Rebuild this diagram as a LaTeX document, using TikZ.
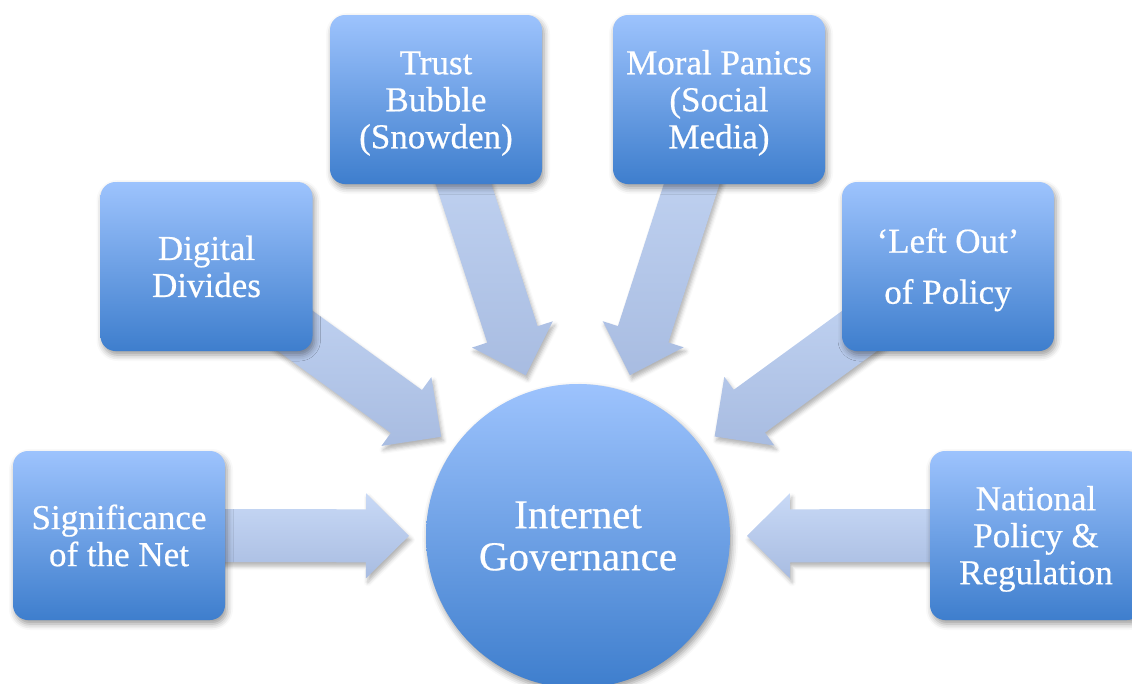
\documentclass[tikz,border=0pt]{standalone}
\usepackage{fontspec}
\setmainfont{Liberation Serif}[FakeBold=0.5]
\usetikzlibrary{calc,shadows.blur}
\definecolor{boxtop}{RGB}{157,195,253}
\definecolor{boxbot}{RGB}{62,126,205}
\definecolor{arrtop}{RGB}{200,217,246}
\definecolor{arrbot}{RGB}{168,188,225}
\pgfdeclarelayer{bg}
\pgfsetlayers{bg,main}
\tikzset{
  topicbox/.style={rectangle, rounded corners=15pt, minimum width=212pt, minimum height=169pt,
    inner sep=0pt, top color=boxtop, bottom color=boxbot, text=white, align=center,
    font=\fontsize{35}{37}\selectfont,
    blur shadow={shadow xshift=2pt, shadow yshift=-4pt, shadow blur radius=6pt, shadow opacity=40}},
  hub/.style={circle, minimum size=304pt, inner sep=0pt, top color=boxtop, bottom color=boxbot,
    text=white, align=center, font=\fontsize{41}{42}\selectfont,
    blur shadow={shadow xshift=2pt, shadow yshift=-4pt, shadow blur radius=6pt, shadow opacity=40}},
  blockarrow/.style={top color=arrtop, bottom color=arrbot,
    blur shadow={shadow xshift=2pt, shadow yshift=-4pt, shadow blur radius=4pt, shadow opacity=30}}
}
\newcommand\convarrow[2]{%
  \coordinate (tip#2) at ($(#1.center)!169pt!(#2.center)$);
  \coordinate (hb#2) at ($(#1.center)!212pt!(#2.center)$);
  \path[blockarrow] (tip#2) -- ($(hb#2)!42.5pt!90:(#2.center)$) -- ($(hb#2)!26.5pt!90:(#2.center)$)
    -- ($(#2.center)!26.5pt!-90:(#1.center)$) -- ($(#2.center)!26.5pt!90:(#1.center)$)
    -- ($(hb#2)!26.5pt!-90:(#2.center)$) -- ($(hb#2)!42.5pt!-90:(#2.center)$) -- cycle;
}
\newcommand\lowerstrut{\rule{0pt}{31pt}}
\begin{document}
\begin{tikzpicture}[x=1pt,y=-1pt]
\useasboundingbox (0,0) rectangle (1132,683);
\node[hub] (ig) at (578,536) {Internet\\Governance};
\node[topicbox] (sig) at (119,535.5) {Significance\\of the Net};
\node[topicbox] (dig) at (206.5,266.5) {Digital\\Divides};
\node[topicbox] (tru) at (436,99.5) {\lowerstrut Trust\\Bubble\\(Snowden)};
\node[topicbox] (mor) at (719,99.5) {\lowerstrut Moral Panics\\(Social\\Media)};
\node[topicbox, font=\fontsize{35}{51}\selectfont] (lef) at (948,266.5) {\lowerstrut‘Left Out’\\of Policy};
\node[topicbox] (nat) at (1036,535.5) {\lowerstrut National\\Policy \&\\Regulation};
\begin{pgfonlayer}{bg}
\convarrow{ig}{sig}
\convarrow{ig}{dig}
\convarrow{ig}{tru}
\convarrow{ig}{mor}
\convarrow{ig}{lef}
\convarrow{ig}{nat}
\end{pgfonlayer}
\end{tikzpicture}
\end{document}
